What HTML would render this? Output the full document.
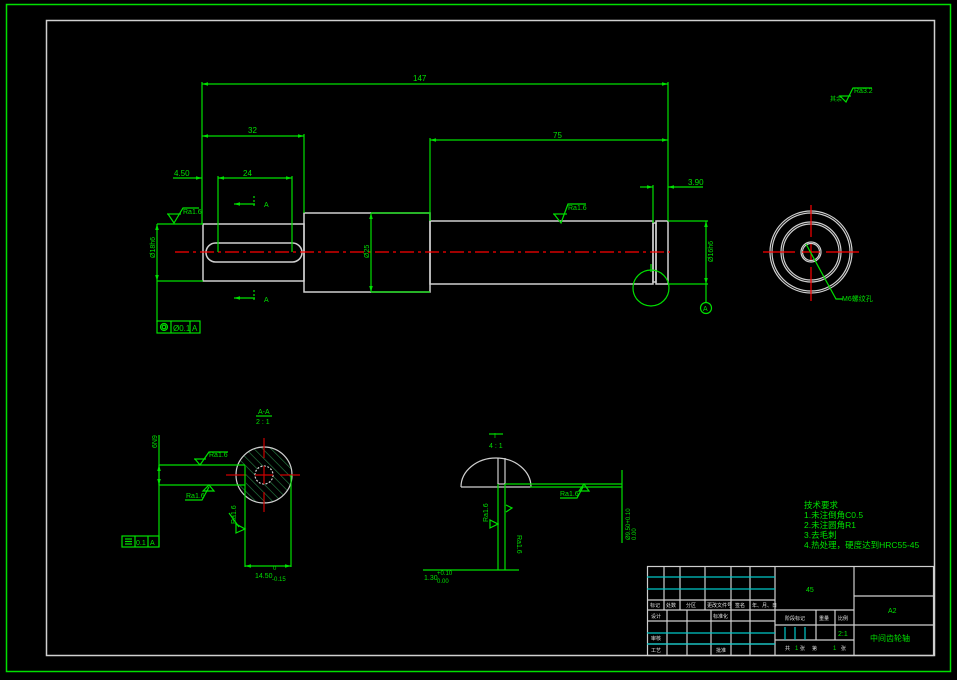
<!DOCTYPE html>
<html><head><meta charset="utf-8"><style>
html,body{margin:0;padding:0;background:#000;}
svg{display:block}
text{font-family:"Liberation Sans","Noto Sans CJK SC",sans-serif;fill:#00e000}
</style></head><body>
<svg width="957" height="680" viewBox="0 0 957 680" xmlns="http://www.w3.org/2000/svg">
<defs>
<marker id="ar" viewBox="0 0 10 10" refX="10" refY="5" markerWidth="8" markerHeight="5" orient="auto-start-reverse"><path d="M0,2 L10,5 L0,8z" fill="#00e000"/></marker>
<pattern id="hat" width="6" height="6" patternUnits="userSpaceOnUse" patternTransform="rotate(-45)"><line x1="0" y1="0" x2="0" y2="6" stroke="#2a8a4a" stroke-width="1.2"/></pattern>
<clipPath id="cc"><circle cx="264" cy="475" r="28"/></clipPath>
</defs>
<rect width="957" height="680" fill="#000"/>
<rect x="6.5" y="4.5" width="944" height="667" fill="none" stroke="#00e000" stroke-width="1.5"/>
<rect x="46.5" y="20.5" width="888" height="635" fill="none" stroke="#d0d0d0" stroke-width="1.5"/>

<!-- main shaft -->
<g fill="none" stroke="#cfcfcf" stroke-width="1.5">
<rect x="203" y="224" width="101" height="57"/>
<rect x="304" y="213" width="126" height="79"/>
<rect x="430" y="221" width="223" height="63"/>
<rect x="653" y="223" width="3" height="59"/>
<rect x="656" y="221" width="12" height="63"/>
<rect x="206" y="243" width="96" height="19" rx="9.5"/>
</g>
<line x1="175" y1="252" x2="670" y2="252" stroke="#ff0000" stroke-width="1.2" stroke-dasharray="14,4,3,4"/>

<g stroke="#00e000" stroke-width="1.2" fill="none">
<!-- 147 -->
<line x1="202" y1="82" x2="202" y2="224"/><line x1="668" y1="82" x2="668" y2="221"/>
<line x1="202" y1="84" x2="668" y2="84" marker-start="url(#ar)" marker-end="url(#ar)"/>
<!-- 32 -->
<line x1="304" y1="134" x2="304" y2="213"/>
<line x1="202" y1="136" x2="304" y2="136" marker-start="url(#ar)" marker-end="url(#ar)"/>
<!-- 75 -->
<line x1="430" y1="138" x2="430" y2="221"/>
<line x1="430" y1="140" x2="668" y2="140" marker-start="url(#ar)" marker-end="url(#ar)"/>
<!-- 4.50 / 24 -->
<line x1="173" y1="178" x2="202" y2="178" marker-end="url(#ar)"/>
<line x1="218" y1="178" x2="292" y2="178" marker-start="url(#ar)" marker-end="url(#ar)"/>
<line x1="218" y1="176" x2="218" y2="252"/><line x1="292" y1="176" x2="292" y2="252"/>
<!-- 3.90 -->
<line x1="640" y1="187" x2="653" y2="187" marker-end="url(#ar)"/>
<line x1="668" y1="187" x2="703" y2="187" marker-start="url(#ar)"/>
<line x1="653" y1="185" x2="653" y2="223"/>
<!-- dia 18 left -->
<line x1="157" y1="224" x2="203" y2="224"/><line x1="157" y1="281" x2="203" y2="281"/>
<line x1="157" y1="224" x2="157" y2="281" marker-start="url(#ar)" marker-end="url(#ar)"/>
<line x1="157" y1="281" x2="157" y2="322"/>
<!-- dia 25 -->
<line x1="371" y1="213" x2="371" y2="292" marker-start="url(#ar)" marker-end="url(#ar)"/>
<line x1="371" y1="213" x2="430" y2="213"/><line x1="371" y1="292" x2="430" y2="292"/>
<!-- dia 16 right -->
<line x1="668" y1="221" x2="708" y2="221"/><line x1="668" y1="284" x2="708" y2="284"/>
<line x1="706" y1="221" x2="706" y2="284" marker-start="url(#ar)" marker-end="url(#ar)"/>
<line x1="706" y1="284" x2="706" y2="302"/>
<circle cx="706" cy="308" r="5.5"/>
<circle cx="651" cy="288" r="18"/>
<line x1="651" y1="264" x2="651" y2="272"/>
<!-- section arrows -->
<line x1="255" y1="204" x2="234" y2="204" marker-end="url(#ar)"/>
<line x1="255" y1="298" x2="234" y2="298" marker-end="url(#ar)"/>
<line x1="254" y1="196" x2="254" y2="208" stroke-dasharray="2,2"/>
<line x1="254" y1="290" x2="254" y2="302" stroke-dasharray="2,2"/>
<!-- roughness symbols -->
<path d="M168,214 L174,223 L183,208 L199,208"/>
<path d="M167,214 L181,214"/>
<path d="M554,214 L561,223 L568,204 L586,204"/><path d="M553,214 L567,214"/>
<path d="M840,96 L846,102 L853,88 L872,88"/><path d="M839,96 L851,96"/>
<!-- tolerance frame -->
<rect x="157" y="321" width="43" height="12"/>
<line x1="171" y1="321" x2="171" y2="333"/><line x1="190" y1="321" x2="190" y2="333"/>
<circle cx="164" cy="327" r="3.5"/><circle cx="164" cy="327" r="1.8"/>
</g>
<g font-size="8">
<text x="413" y="81">147</text>
<text x="248" y="133">32</text>
<text x="553" y="138">75</text>
<text x="174" y="176">4.50</text>
<text x="243" y="176">24</text>
<text x="688" y="185">3.90</text>
<text x="183" y="214" font-size="7">Ra1.6</text>
<text x="568" y="210" font-size="7">Ra1.6</text>
<text x="854" y="93" font-size="7">Ra3.2</text>
<text x="830" y="101" font-size="6">其余</text>
<text x="264" y="207" font-size="7">A</text>
<text x="264" y="302" font-size="7">A</text>
<text x="703" y="311" font-size="7">A</text>
<text x="173" y="331" font-size="8">Ø0.1</text>
<text x="192" y="331" font-size="8">A</text>
<text transform="translate(155,258) rotate(-90)" font-size="7">Ø18h6</text>
<text transform="translate(369,258) rotate(-90)" font-size="7">Ø25</text>
<text transform="translate(713,262) rotate(-90)" font-size="7">Ø16h6</text>
</g>

<!-- right end view -->
<g fill="none" stroke="#cfcfcf" stroke-width="1.2">
<circle cx="811" cy="252" r="41"/><circle cx="811" cy="252" r="39"/>
<circle cx="811" cy="252" r="30"/><circle cx="811" cy="252" r="28"/>
<circle cx="811" cy="252" r="10"/><circle cx="811" cy="252" r="8.5"/>
</g>
<g stroke="#ff0000" stroke-width="1.2">
<line x1="763" y1="252" x2="795" y2="252"/><line x1="802" y1="252" x2="820" y2="252"/><line x1="826" y1="252" x2="859" y2="252"/>
<line x1="811" y1="205" x2="811" y2="237"/><line x1="811" y1="244" x2="811" y2="260"/><line x1="811" y1="267" x2="811" y2="301"/>
</g>
<path d="M806,244 L836,299 L843,299" stroke="#00e000" fill="none" stroke-width="1.2"/>
<text x="842" y="301" font-size="7">M6螺纹孔</text>

<!-- section A-A -->
<circle cx="264" cy="475" r="28" fill="url(#hat)"/>
<rect x="236" y="465" width="10" height="20" fill="#000"/>
<circle cx="264" cy="475" r="28" fill="none" stroke="#cfcfcf" stroke-width="1.2"/>
<circle cx="264" cy="475" r="9" fill="#000" stroke="#cfcfcf" stroke-width="1.2" stroke-dasharray="2,1.5"/>
<g stroke="#cc0000" stroke-width="1.2">
<line x1="226" y1="475" x2="246" y2="475"/><line x1="255" y1="475" x2="273" y2="475"/><line x1="280" y1="475" x2="300" y2="475"/>
<line x1="264" y1="438" x2="264" y2="458"/><line x1="264" y1="466" x2="264" y2="484"/><line x1="264" y1="492" x2="264" y2="512"/>
</g>
<g stroke="#00e000" stroke-width="1.2" fill="none">
<line x1="159" y1="465" x2="245" y2="465"/><line x1="159" y1="485" x2="245" y2="485"/>
<line x1="245" y1="465" x2="245" y2="567"/><line x1="291" y1="475" x2="291" y2="567"/>
<line x1="245" y1="566" x2="291" y2="566" marker-start="url(#ar)" marker-end="url(#ar)"/>
<line x1="159" y1="435" x2="159" y2="547"/>
<line x1="159" y1="465" x2="159" y2="485" marker-start="url(#ar)" marker-end="url(#ar)"/>
<rect x="122" y="536" width="37" height="11"/>
<line x1="135" y1="536" x2="135" y2="547"/><line x1="148" y1="536" x2="148" y2="547"/>
<line x1="125" y1="539" x2="132" y2="539"/><line x1="125" y1="541.5" x2="132" y2="541.5"/><line x1="125" y1="544" x2="132" y2="544"/>
<path d="M195,459 L200,465 L209,452 L228,452"/><path d="M194,459 L206,459"/>
<path d="M203,491 L209,485 L214,491 z"/><path d="M185,500 L202,500 L209,487"/>
<path d="M236,524 L245,529 L236,533 z"/><path d="M229,513 L239,527"/>
<line x1="256" y1="416" x2="272" y2="416"/>
</g>
<g font-size="7">
<text x="258" y="414">A-A</text><text x="256" y="424">2 : 1</text>
<text x="209" y="457">Ra1.6</text>
<text x="186" y="498">Ra1.6</text>
<text transform="translate(236,524) rotate(-90)">Ra1.6</text>
<text transform="translate(157,448) rotate(-90)">6N9</text>
<text x="136" y="545">0.1</text><text x="150" y="545">A</text>
<text x="255" y="578">14.50</text><text x="273" y="570" font-size="6">0</text><text x="272" y="581" font-size="6">-0.15</text>
</g>

<!-- detail I -->
<g fill="none" stroke="#cfcfcf" stroke-width="1.2">
<path d="M461,487 A35,29 0 0 1 531,487"/>
<line x1="461" y1="487" x2="531" y2="487"/>
<line x1="498" y1="458" x2="498" y2="484"/><line x1="505" y1="458" x2="505" y2="484"/>
<line x1="498" y1="484" x2="505" y2="484"/>
</g>
<g stroke="#00e000" stroke-width="1.2" fill="none">
<line x1="498" y1="484" x2="498" y2="570"/><line x1="505" y1="484" x2="505" y2="570"/>
<line x1="423" y1="570" x2="519" y2="570"/>
<line x1="505" y1="484" x2="622" y2="484"/><line x1="530" y1="487" x2="622" y2="487"/>
<line x1="622" y1="470" x2="622" y2="543"/>
<path d="M579,491 L584,484 L589,491 z"/><path d="M560,498 L577,498 L583,487"/>
<path d="M490,528 L498,524 L490,520 z"/><path d="M506,512 L512,508 L506,505"/>
<line x1="489" y1="434" x2="503" y2="434"/>
</g>
<g font-size="7">
<text x="494" y="438">I</text><text x="489" y="448">4 : 1</text>
<text x="560" y="496">Ra1.6</text>
<text transform="translate(488,522) rotate(-90)">Ra1.6</text>
<text transform="translate(517,535) rotate(90)">Ra1.6</text>
<text x="424" y="580">1.30</text><text x="437" y="575" font-size="6">+0.10</text><text x="437" y="583" font-size="6">0.00</text>
<text transform="translate(630,540) rotate(-90)" font-size="6">Ø9.50+0.10</text>
<text transform="translate(636,540) rotate(-90)" font-size="6">0.00</text>
</g>

<!-- technical notes -->
<g font-size="8.5">
<text x="804" y="508">技术要求</text>
<text x="804" y="518">1.未注倒角C0.5</text>
<text x="804" y="528">2.未注圆角R1</text>
<text x="804" y="538">3.去毛刺</text>
<text x="804" y="548">4.热处理，硬度达到HRC55-45</text>
</g>

<!-- title block -->
<g stroke="#cfcfcf" stroke-width="1.2" fill="none">
<rect x="647.5" y="566.5" width="286" height="89"/>
<line x1="775" y1="566" x2="775" y2="655"/>
<line x1="854" y1="566" x2="854" y2="655"/>
<line x1="854" y1="596" x2="934" y2="596"/><line x1="854" y1="625" x2="934" y2="625"/>
<line x1="647" y1="600" x2="775" y2="600"/><line x1="647" y1="610" x2="775" y2="610"/>
<line x1="664" y1="566" x2="664" y2="610"/><line x1="680" y1="566" x2="680" y2="610"/>
<line x1="705" y1="566" x2="705" y2="610"/><line x1="731" y1="566" x2="731" y2="610"/>
<line x1="750" y1="566" x2="750" y2="610"/>
<line x1="667" y1="610" x2="667" y2="655"/><line x1="687" y1="610" x2="687" y2="655"/>
<line x1="711" y1="610" x2="711" y2="655"/><line x1="731" y1="610" x2="731" y2="655"/>
<line x1="750" y1="610" x2="750" y2="655"/>
<line x1="647" y1="621" x2="775" y2="621"/><line x1="647" y1="644" x2="775" y2="644"/>
<line x1="775" y1="610" x2="854" y2="610"/><line x1="775" y1="625" x2="854" y2="625"/>
<line x1="775" y1="640" x2="854" y2="640"/>
<line x1="816" y1="610" x2="816" y2="640"/><line x1="835" y1="610" x2="835" y2="640"/>
</g>
<g stroke="#00c8c8" stroke-width="1.2">
<line x1="647" y1="577" x2="775" y2="577"/><line x1="647" y1="589" x2="775" y2="589"/>
<line x1="647" y1="633" x2="775" y2="633"/><line x1="647" y1="644" x2="775" y2="644"/>
<line x1="785" y1="627" x2="785" y2="640"/><line x1="795" y1="627" x2="795" y2="640"/><line x1="805" y1="627" x2="805" y2="640"/>
</g>
<g font-size="5" fill="#e0e0e0">
<text x="650" y="607" style="fill:#e0e0e0">标记</text><text x="666" y="607" style="fill:#e0e0e0">处数</text>
<text x="686" y="607" style="fill:#e0e0e0">分区</text><text x="707" y="607" style="fill:#e0e0e0">更改文件号</text>
<text x="735" y="607" style="fill:#e0e0e0">签名</text><text x="752" y="607" style="fill:#e0e0e0">年、月、日</text>
<text x="651" y="618" style="fill:#e0e0e0">设计</text><text x="713" y="618" style="fill:#e0e0e0">标准化</text>
<text x="651" y="640" style="fill:#e0e0e0">审核</text><text x="651" y="652" style="fill:#e0e0e0">工艺</text>
<text x="716" y="652" style="fill:#e0e0e0">批准</text>
<text x="785" y="620" style="fill:#e0e0e0">阶段标记</text><text x="819" y="620" style="fill:#e0e0e0">重量</text>
<text x="838" y="620" style="fill:#e0e0e0">比例</text>
<text x="785" y="650" style="fill:#e0e0e0">共</text><text x="800" y="650" style="fill:#e0e0e0">张</text>
<text x="812" y="650" style="fill:#e0e0e0">第</text><text x="841" y="650" style="fill:#e0e0e0">张</text>
</g>
<text x="806" y="592" font-size="7">45</text>
<text x="888" y="613" font-size="7">A2</text>
<text x="838" y="636" font-size="7">2:1</text>
<text x="795" y="650" font-size="6">1</text><text x="833" y="650" font-size="6">1</text>
<text x="870" y="641" font-size="8">中间齿轮轴</text>
</svg>
</body></html>
